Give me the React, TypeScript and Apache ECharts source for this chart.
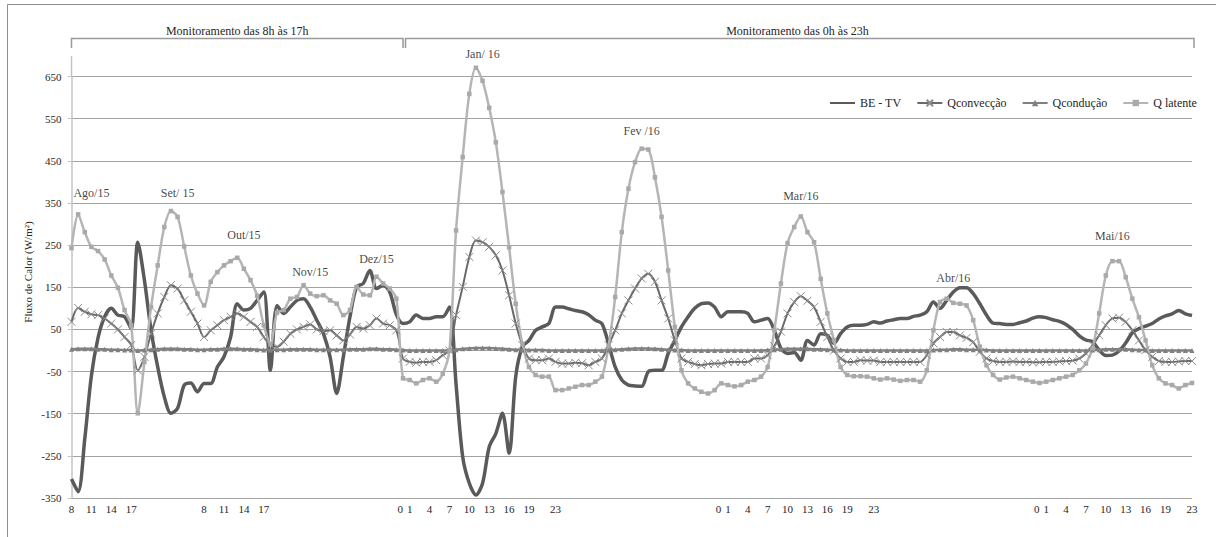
import React, { useEffect, useRef } from "react";
import * as echarts from "echarts";

const FONT = "Liberation Serif";

// ---- categories ----
const leftMonths = ["Ago/15", "Set/15", "Out/15", "Nov/15", "Dez/15"];
const rightMonths = ["Jan/16", "Fev/16", "Mar/16", "Abr/16", "Mai/16"];
const leftHours = [8, 9, 10, 11, 12, 13, 14, 15, 16, 17];
const rightHours = [0, 1, 2, 3, 4, 5, 6, 7, 8, 9, 10, 11, 12, 13, 14, 15, 16, 17, 18, 19, 20, 21, 22, 23];
const leftLabelledMonths = ["Ago/15", "Out/15"];
const leftLabelHours = [8, 11, 14, 17];
const rightLabelledMonths = ["Jan/16", "Mar/16", "Mai/16"];
const rightLabelHours = [0, 1, 4, 7, 10, 13, 16, 19, 23];

// ---- series values (W/m²) ----
const beTv = [
  // Ago/15 8h-17h
  -305, -335, -210, -60, 30, 80, 100, 84, 80, 52,
  // Set/15
  257, 167, 48, -39, -110, -149, -137, -82, -77, -98,
  // Out/15
  -78, -78, -39, -15, 32, 111, 96, 100, 119, 139,
  // Nov/15
  -47, 107, 88, 103, 119, 123, 103, 72, 40, -15,
  // Dez/15
  -102, -15, 80, 151, 159, 190, 147, 155, 139, 85,
  // Jan/16 0h-23h
  64, 68, 84, 76, 76, 80, 80, 103, -80, -252, -315, -343, -315, -229, -197, -149, -244, -62, 9, 24, 48, 56, 64, 103,
  // Fev/16
  103, 99, 95, 92, 85, 72, 64, 16, -39, -70, -82, -84, -85, -50, -47, -47, -7, 24, 56, 80, 100, 111, 113, 103,
  // Mar/16
  80, 92, 92, 92, 88, 68, 72, 76, 48, 5, -7, -5, -23, 24, 13, 40, 36, 17, 40, 56, 60, 60, 62, 68,
  // Abr/16
  65, 70, 73, 76, 76, 81, 84, 92, 115, 100, 119, 139, 149, 149, 135, 111, 84, 65, 64, 62, 62, 66, 70, 77,
  // Mai/16
  80, 78, 73, 69, 62, 50, 35, 25, 21, 1, -12, -11, -1, 18, 42, 52, 58, 64, 75, 82, 87, 95, 87, 83,
];

const qConveccao = [
  68, 101, 92, 86, 84, 76, 64, 50, 32, 13,
  -47, -15, 40, 88, 127, 155, 147, 119, 92, 64,
  32, 48, 60, 72, 80, 88, 80, 68, 56, 32,
  13, 9, 21, 40, 50, 56, 62, 50, 46, 48,
  36, 24, 38, 56, 52, 60, 76, 64, 60, 48,
  -19, -27, -29, -27, -27, -23, -11, 0, 84, 151, 222, 261, 257, 246, 226, 190, 131, 64, 13, -19, -23, -23, -19, -27,
  -31, -31, -29, -30, -35, -27, -19, 13, 48, 88, 119, 147, 171, 182, 163, 119, 76, 24, -19, -27, -32, -35, -32, -31,
  -31, -27, -27, -27, -27, -19, -19, -11, 10, 45, 88, 115, 129, 118, 103, 68, 32, 0, -19, -27, -27, -23, -24, -24,
  -27, -27, -27, -27, -27, -27, -27, -11, 17, 32, 44, 44, 36, 30, 20, -3, -19, -25, -27, -27, -26, -27, -27, -28,
  -28, -27, -27, -26, -25, -24, -19, -7, 13, 36, 60, 76, 78, 68, 48, 24, 1, -15, -25, -27, -27, -26, -25, -25,
];

const qConducao = [
  3, 4, 4, 4, 3, 3, 2, 2, 1, 1,
  0, 1, 2, 3, 4, 4, 4, 3, 3, 2,
  2, 3, 3, 4, 4, 4, 3, 3, 2, 1,
  1, 2, 2, 3, 3, 3, 3, 2, 2, 2,
  2, 2, 3, 3, 3, 4, 4, 3, 3, 2,
  1, 0, 0, 0, 0, 0, 0, 1, 2, 4, 5, 6, 6, 6, 5, 4, 3, 2, 1, 1, 1, 1, 0, 0,
  0, 0, 0, 0, 0, 0, 0, 1, 2, 3, 4, 5, 5, 5, 4, 3, 2, 1, 1, 0, 0, 0, 0, 0,
  0, 0, 0, 0, 0, 0, 0, 1, 2, 3, 4, 4, 4, 4, 3, 3, 2, 1, 1, 0, 0, 0, 0, 0,
  0, 0, 0, 0, 0, 0, 0, 0, 1, 2, 2, 3, 3, 2, 2, 1, 1, 0, 0, 0, 0, 0, 0, 0,
  0, 0, 0, 0, 0, 0, 0, 0, 1, 2, 3, 3, 3, 3, 2, 1, 1, 0, 0, 0, 0, 0, 0, 0,
];

const qLatente = [
  243, 323, 281, 246, 236, 216, 178, 149, 96, 60,
  -149, -27, 103, 202, 293, 331, 317, 247, 178, 135,
  107, 163, 186, 202, 212, 220, 194, 167, 130, 60,
  15, 90, 96, 123, 127, 155, 135, 129, 131, 119,
  111, 84, 96, 151, 133, 131, 175, 159, 147, 123,
  -66, -70, -78, -70, -66, -74, -55, 0, 285, 459, 609, 671, 640, 576, 494, 376, 245, 111, 16, -39, -58, -62, -62, -94,
  -94, -90, -86, -82, -82, -74, -62, 10, 127, 281, 384, 447, 479, 477, 411, 317, 190, 56, -47, -78, -90, -98, -102, -94,
  -78, -82, -85, -82, -74, -70, -62, -39, 48, 159, 255, 293, 318, 281, 257, 170, 88, 24, -39, -58, -61, -61, -62, -66,
  -69, -66, -69, -72, -70, -70, -74, -47, 48, 115, 123, 113, 111, 107, 72, 9, -35, -58, -69, -64, -62, -66, -70, -74,
  -77, -74, -70, -66, -62, -58, -47, -31, 5, 88, 178, 212, 212, 174, 123, 79, 24, -35, -66, -78, -82, -90, -82, -77,
];

// ---- month annotations (category index, value) ----
const monthLabelText = ["Ago/15", "Set/ 15", "Out/15", "Nov/15", "Dez/15", "Jan/ 16", "Fev /16", "Mar/16", "Abr/16", "Mai/16"];
const monthLabelCategory = [3, 16, 26, 36, 46, 62, 86, 110, 133, 157];
const monthLabelValue = [373, 373, 275, 186, 217, 703, 520, 367, 173, 272];

// ---- axis ----
const yMin = -350;
const yMax = 650;
const yInterval = 100;
const yTitle = "Fluxo de Calor (W/m²)";
const periodTitles = ["Monitoramento das 8h às 17h", "Monitoramento das 0h às 23h"];

export default function App() {
  const ref = useRef<HTMLDivElement>(null);

  useEffect(() => {
    if (!ref.current) return;
    const chart = echarts.init(ref.current, undefined, { renderer: "svg" });

    const categories: string[] = [];
    const tickLabels: string[] = [];
    leftMonths.forEach((m) =>
      leftHours.forEach((h) => {
        categories.push(m + " " + h + "h");
        tickLabels.push(leftLabelledMonths.includes(m) && leftLabelHours.includes(h) ? String(h) : "");
      })
    );
    rightMonths.forEach((m) =>
      rightHours.forEach((h) => {
        categories.push(m + " " + h + "h");
        let t = rightLabelledMonths.includes(m) && rightLabelHours.includes(h) ? String(h) : "";
        if (t === "0") t = "0  ";
        tickLabels.push(t);
      })
    );

    const gridLeft = 71.5;
    const gridRight = 24;
    const gridTop = 76.6;
    const gridBottom = 39;
    const W = 1216;
    const plotRight = W - gridRight;
    const split = gridLeft + ((plotRight - gridLeft) * 50) / (categories.length - 1);

    const textColor = "#262626";

    chart.setOption({
      animation: false,
      backgroundColor: "#ffffff",
      textStyle: { fontFamily: FONT },
      grid: { left: gridLeft, right: gridRight, top: gridTop, bottom: gridBottom },
      legend: {
        data: [
          { name: "BE - TV", itemStyle: { opacity: 0 } },
          { name: "Qconvecção" },
          { name: "Qcondução" },
          { name: "Q latente" },
        ],
        left: 824,
        top: 92,
        itemWidth: 25,
        itemHeight: 8,
        itemGap: 15,
        selectedMode: false,
        textStyle: { fontSize: 12, color: textColor, fontFamily: FONT },
      },
      xAxis: {
        type: "category",
        data: categories,
        boundaryGap: false,
        axisLine: { show: true, lineStyle: { color: "#a6a6a6", width: 1 } },
        axisTick: { show: false },
        splitLine: { show: false },
        axisLabel: {
          interval: 0,
          formatter: (_v: string, i: number) => tickLabels[i],
          fontSize: 11,
          color: textColor,
          fontFamily: FONT,
          margin: 5,
          hideOverlap: false,
        },
      },
      yAxis: {
        type: "value",
        min: yMin,
        max: yMax,
        interval: yInterval,
        axisLine: { show: true, lineStyle: { color: "#c4c4c4", width: 1.5 } },
        axisTick: { show: true, length: 4, lineStyle: { color: "#c4c4c4" } },
        axisLabel: { fontSize: 11, color: textColor, fontFamily: FONT, margin: 10 },
        splitLine: { show: true, lineStyle: { color: "#a3a3a3", width: 1 } },
      },
      series: [
        {
          name: "BE - TV",
          type: "line",
          data: beTv,
          smooth: 0.3,
          clip: false,
          symbol: "none",
          lineStyle: { color: "#5a5a5a", width: 3.5 },
          itemStyle: { color: "#5a5a5a" },
        },
        {
          name: "Qconvecção",
          type: "line",
          data: qConveccao,
          smooth: 0.3,
          clip: false,
          symbol: "path://M0,0L10,10M0,10L10,0",
          symbolSize: 8,
          showAllSymbol: true,
          lineStyle: { color: "#6a6a6a", width: 2 },
          itemStyle: { color: "#8c8c8c", borderColor: "#8c8c8c", borderWidth: 1 },
        },
        {
          name: "Qcondução",
          type: "line",
          data: qConducao,
          smooth: 0.3,
          clip: false,
          symbol: "triangle",
          symbolSize: 5,
          showAllSymbol: true,
          lineStyle: { color: "#808080", width: 2.5 },
          itemStyle: { color: "#808080" },
        },
        {
          name: "Q latente",
          type: "line",
          data: qLatente,
          smooth: 0.3,
          clip: false,
          symbol: "rect",
          symbolSize: 4.5,
          showAllSymbol: true,
          lineStyle: { color: "#b5b5b5", width: 2.5 },
          itemStyle: { color: "#a9a9a9" },
        },
        {
          name: "meses",
          type: "scatter",
          data: monthLabelText.map((t, k) => ({ name: t, value: [monthLabelCategory[k], monthLabelValue[k]] })),
          symbolSize: 1,
          clip: false,
          silent: true,
          z: 10,
          itemStyle: { color: "transparent" },
          label: {
            show: true,
            position: "inside",
            formatter: "{b}",
            fontSize: 12,
            color: "#111111",
            fontFamily: FONT,
          },
        },
      ],
      graphic: [
        {
          type: "rect",
          silent: true,
          shape: { x: 7.5, y: 4.5, width: 1400, height: 800 },
          style: { fill: "none", stroke: "#8f8f8f", lineWidth: 1 },
        },
        {
          type: "line",
          silent: true,
          shape: { x1: gridLeft, y1: 56, x2: gridLeft, y2: gridTop },
          style: { stroke: "#c4c4c4", lineWidth: 1.5 },
        },
        {
          type: "polyline",
          silent: true,
          shape: { points: [[gridLeft, 48], [gridLeft, 38.5], [split, 38.5], [split, 48]] },
          style: { stroke: "#9a9a9a", lineWidth: 1.5, fill: "none" },
        },
        {
          type: "polyline",
          silent: true,
          shape: { points: [[split + 2.5, 48], [split + 2.5, 38.5], [plotRight + 2, 38.5], [plotRight + 2, 48]] },
          style: { stroke: "#9a9a9a", lineWidth: 1.5, fill: "none" },
        },
        {
          type: "text",
          silent: true,
          x: (gridLeft + split) / 2,
          y: 31,
          style: { text: periodTitles[0], fontSize: 12, fontFamily: FONT, fill: textColor, align: "center", verticalAlign: "middle" },
        },
        {
          type: "text",
          silent: true,
          x: (split + plotRight) / 2,
          y: 31,
          style: { text: periodTitles[1], fontSize: 12, fontFamily: FONT, fill: textColor, align: "center", verticalAlign: "middle" },
        },
        {
          type: "text",
          silent: true,
          x: 28,
          y: 272,
          rotation: Math.PI / 2,
          style: { text: yTitle, fontSize: 11, fontFamily: FONT, fill: textColor, align: "center", verticalAlign: "middle" },
        },
      ],
    });

    return () => chart.dispose();
  }, []);

  return (
    <div
      ref={ref}
      style={{ position: "fixed", left: 0, top: 0, width: 1216, height: 537, background: "#fff" }}
    />
  );
}
